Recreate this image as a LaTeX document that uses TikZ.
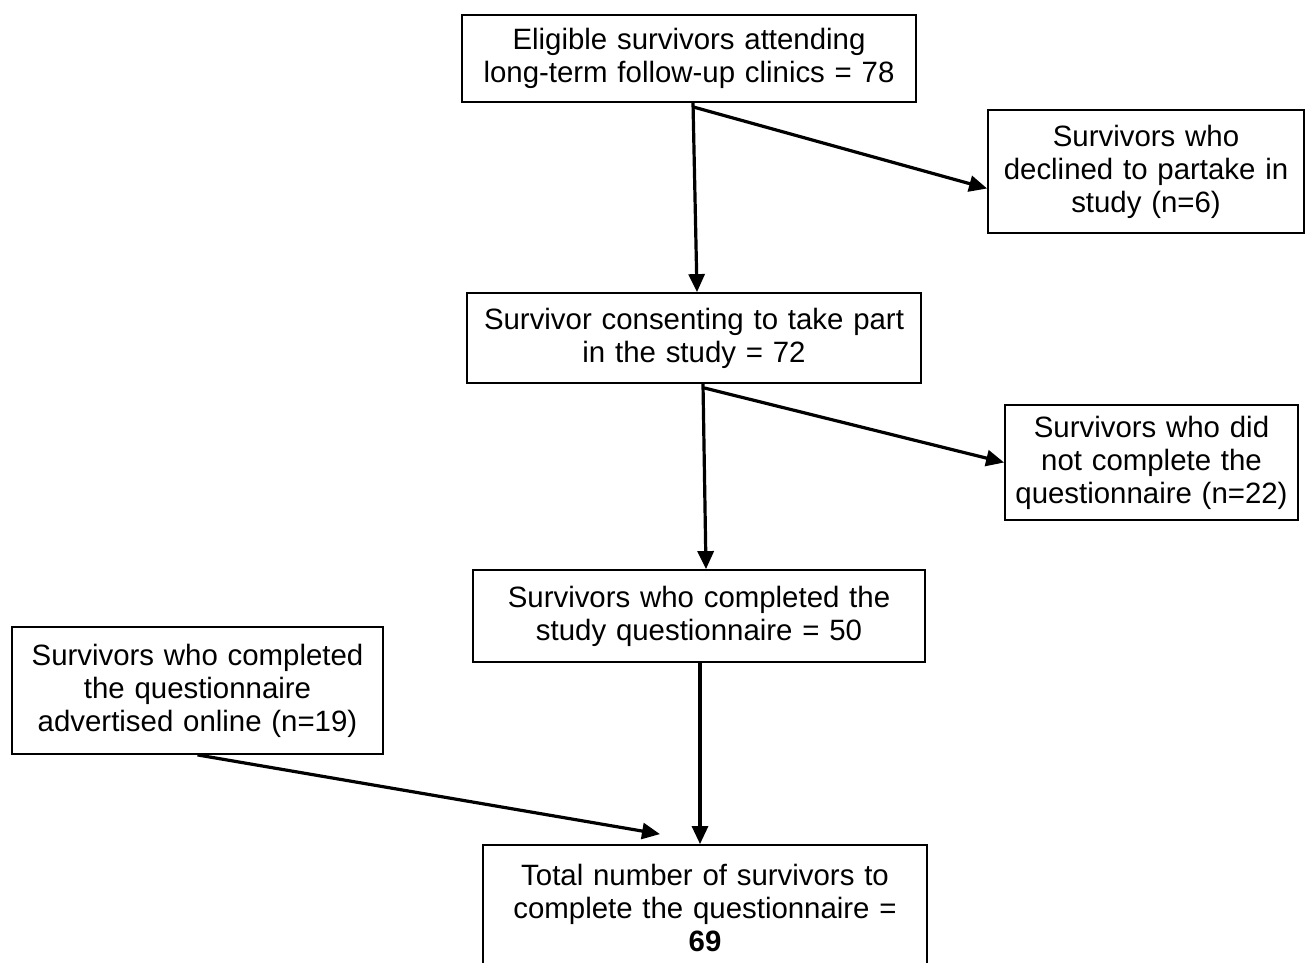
\documentclass[tikz,border=0pt]{standalone}
\usepackage{fontspec}
\setmainfont{Liberation Sans}
\usepackage{xcolor}
\usepackage{tikz}
\usetikzlibrary{positioning,arrows.meta}
\tikzset{
  flowbox/.style={draw=black, line width=0.9pt, fill=white, inner sep=0pt, align=center,
    font=\fontsize{14.7}{16.5}\selectfont},
  flowarrow/.style={line width=1.6pt, -{Triangle[length=9pt,width=8pt]}}
}

\begin{document}
\begin{tikzpicture}[x=0.5pt,y=-0.5pt]
\useasboundingbox (0,0) rectangle (1306,963);
% main column
\node[flowbox, text width=227pt, minimum height=43.5pt] (eligible) at (689,58.5)
  {Eligible survivors attending\\long-term follow-up clinics = 78};
\node[flowbox, text width=227pt, minimum height=45pt] (consent) at (694,338)
  {Survivor consenting to take part\\in the study = 72};
\node[flowbox, text width=226pt, minimum height=46pt] (completed) at (699,616)
  {Survivors who completed the\\study questionnaire = 50};
\node[flowbox, text width=222pt, minimum height=63pt] (total) at (705,908)
  {Total number of survivors to\\complete the questionnaire =\\\textbf{69}};
% side boxes
\node[flowbox, text width=158pt, minimum height=61.5pt] (declined) at (1146,171.5)
  {Survivors who\\declined to partake in\\study (n=6)};
\node[flowbox, text width=146.5pt, minimum height=57.5pt] (notdone) at (1151.5,462.5)
  {Survivors who did\\not complete the\\questionnaire (n=22)};
\node[flowbox, text width=185.5pt, minimum height=63.5pt] (online) at (197.5,690.5)
  {Survivors who completed\\the questionnaire\\advertised online (n=19)};
% connectors
\draw[flowarrow] ([xshift=2pt]eligible.south) -- ([xshift=1.5pt]consent.north);
\draw[flowarrow] ([xshift=2pt,yshift=-2pt]eligible.south) -- ([yshift=-8.5pt]declined.west);
\draw[flowarrow] ([xshift=4.5pt]consent.south) -- ([xshift=3.5pt]completed.north);
\draw[flowarrow] ([xshift=5pt,yshift=-2pt]consent.south) -- (notdone.west);
\draw[flowarrow] ([xshift=0.5pt]completed.south) -- ([xshift=-2.5pt]total.north);
\draw[flowarrow] (online.south) -- ([xshift=-22.5pt,yshift=5pt]total.north);
\end{tikzpicture}
\end{document}
